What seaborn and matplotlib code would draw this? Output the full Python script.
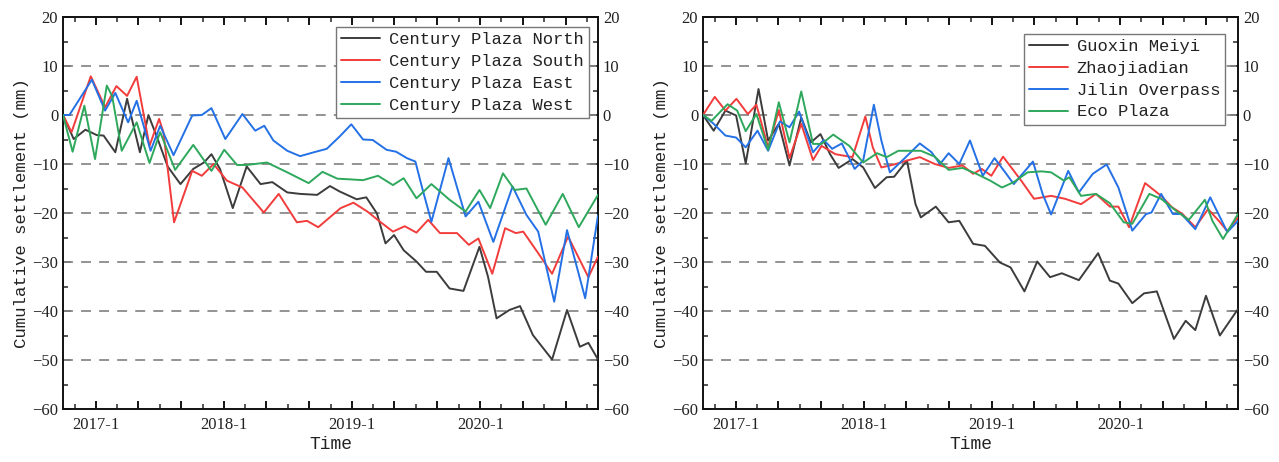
import numpy as np
import pandas as pd
import matplotlib
matplotlib.use("Agg")
import matplotlib.pyplot as plt
import matplotlib.dates as mdates
from matplotlib.ticker import MultipleLocator, FuncFormatter
import seaborn as sns

# ---------------- data (months since 2017-01, settlement in mm) ----------------
north_m = [-3.1, -2.1, -1.0, 0.06, 0.7, 1.8, 2.9, 4.1, 4.9, 5.7, 6.7, 7.9, 9.1, 10.1, 10.8, 11.6, 12.8,
           14.1, 15.4, 16.5, 17.9, 19.1, 20.7, 21.9, 22.8, 24.4, 25.3, 26.3, 27.1, 27.9, 28.8, 30.0,
           30.9, 31.9, 33.1, 34.4, 35.9, 36.7, 37.5, 38.7, 39.7, 40.9, 42.7, 44.1, 45.3, 46.1, 47.0]
north_v = [0, -4.9, -3.0, -4.1, -4.2, -7.6, 3.3, -7.6, 0, -4.5, -10.5, -14.1, -11.0, -9.7, -8.0, -11.0,
           -19.0, -10.5, -14.1, -13.7, -15.8, -16.1, -16.3, -14.5, -15.6, -17.2, -16.8, -20.1, -26.2,
           -24.5, -27.6, -29.9, -32.0, -32.0, -35.4, -35.9, -26.9, -33.0, -41.5, -39.8, -39.0, -44.9,
           -49.9, -39.8, -47.3, -46.5, -49.9]

south_m = [-3.1, -2.3, -0.5, 0.84, 1.9, 2.9, 3.8, 5.0, 5.9, 6.3, 7.3, 9.0, 9.9, 11.0, 12.25, 13.7, 15.7,
           17.1, 18.8, 19.75, 20.8, 22.9, 24.1, 25.4, 26.6, 27.8, 28.9, 30.0, 31.1, 32.2, 33.8, 34.9,
           35.8, 37.1, 38.3, 39.3, 40.0, 41.4, 42.7, 44.2, 46.1, 47.0]
south_v = [0, -3.5, 7.9, 1.6, 5.9, 3.9, 7.8, -6.3, -0.8, -3.5, -21.9, -11.4, -12.4, -10.0, -13.4, -14.8,
           -19.9, -16.1, -21.9, -21.6, -22.9, -19.0, -17.9, -19.7, -21.8, -23.8, -22.7, -24.0, -21.4,
           -24.1, -24.1, -26.5, -25.2, -32.4, -23.1, -24.1, -23.8, -28.2, -32.4, -24.8, -33.1, -28.9]

east_m = [-3.1, -2.5, -0.4, 0.84, 1.8, 3.0, 3.8, 5.1, 6.0, 7.25, 9.0, 9.9, 10.8, 12.1, 13.7, 14.9, 15.75,
          16.6, 17.9, 19.1, 20.4, 21.6, 22.8, 23.9, 25.0, 25.9, 27.2, 28.1, 29.1, 29.9, 30.5, 31.4,
          33.0, 34.6, 35.8, 37.2, 39.0, 40.3, 41.4, 42.9, 44.1, 45.8, 47.0]
east_v = [0, 0, 7.2, 0.9, 4.5, -1.5, 2.9, -7.3, -2.2, -8.2, -0.1, 0, 1.4, -4.9, 0.2, -3.2, -2.2, -5.2,
          -7.3, -8.4, -7.6, -6.9, -4.4, -1.9, -5.0, -5.1, -7.1, -7.5, -8.8, -9.5, -14.6, -21.8, -8.8,
          -20.7, -17.7, -25.9, -14.6, -20.4, -23.8, -38.1, -23.5, -37.4, -20.5]

west_m = [-3.1, -2.2, -1.1, -0.1, 1.0, 1.5, 2.4, 3.8, 5.0, 6.0, 7.4, 9.1, 10.8, 12.0, 13.2, 14.1, 16.0,
          17.9, 19.9, 21.2, 22.6, 23.5, 25.0, 26.4, 27.8, 28.8, 30.0, 31.4, 33.1, 34.6, 35.9, 36.9,
          38.1, 39.2, 40.3, 42.1, 43.7, 45.2, 47.0]
west_v = [0, -7.5, 1.9, -9.0, 6.0, 3.9, -7.3, -1.5, -9.8, -3.5, -11.2, -6.1, -11.4, -7.1, -10.2, -10.2,
          -9.7, -11.7, -13.9, -11.6, -13.0, -13.1, -13.3, -12.4, -14.3, -12.9, -17.0, -14.1, -17.3,
          -19.7, -15.3, -19.0, -11.9, -15.3, -15.0, -22.4, -16.1, -22.9, -16.3]

guoxin_m = [-3.1, -2.1, -1.0, 0.0, 0.9, 2.1, 3.0, 4.0, 5.0, 6.1, 7.0, 7.9, 8.8, 9.6, 10.9, 11.9, 13.0,
            14.1, 14.8, 16.0, 16.8, 17.3, 18.7, 19.9, 20.9, 22.2, 23.3, 24.7, 25.7, 27.0, 28.2, 29.4,
            30.5, 32.1, 33.9, 35.0, 35.8, 37.1, 38.2, 39.4, 41.0, 42.1, 43.0, 44.0, 45.3, 47.0]
guoxin_v = [0, -3.2, 0.9, -0.1, -9.9, 5.3, -5.2, -1.8, -10.3, -0.5, -5.6, -3.9, -8.0, -10.8, -9.0,
            -10.7, -14.9, -12.7, -12.6, -9.3, -18.2, -20.9, -18.7, -21.9, -21.6, -26.3, -26.7, -30.1,
            -31.1, -36.0, -29.9, -33.1, -32.3, -33.7, -28.2, -33.8, -34.4, -38.4, -36.4, -36.0, -45.7,
            -42.0, -43.9, -36.9, -45.0, -39.6]

zhao_m = [-3.1, -2.0, -1.0, 0.03, 1.1, 1.9, 3.0, 4.0, 5.0, 6.1, 7.2, 8.0, 9.3, 10.9, 12.1, 12.8, 13.6,
          14.8, 16.0, 17.2, 18.6, 19.9, 21.2, 22.2, 23.0, 23.9, 25.0, 26.7, 27.9, 29.5, 30.8, 32.3,
          33.7, 35.0, 35.8, 36.8, 38.3, 39.8, 40.8, 41.8, 43.0, 44.2, 45.2, 46.0, 47.0]
zhao_v = [0, 3.7, 0.9, 3.3, 0.2, 2.1, -6.6, 1.0, -8.8, -1.8, -9.2, -6.3, -8.0, -8.6, -0.3, -6.6, -10.7,
          -10.1, -9.3, -8.6, -10.0, -10.8, -10.3, -12.0, -11.0, -12.4, -8.5, -13.4, -17.1, -16.5, -17.1,
          -18.2, -16.1, -18.7, -18.7, -22.9, -13.9, -16.5, -18.8, -20.2, -22.9, -19.2, -21.6, -23.7, -20.9]

jilin_m = [-3.1, -2.1, -1.0, 0.0, 0.9, 2.0, 3.0, 4.1, 5.0, 5.9, 7.2, 8.2, 9.0, 9.9, 11.1, 11.9, 12.9,
           13.6, 14.4, 15.7, 17.2, 18.3, 19.1, 19.9, 20.9, 21.9, 23.1, 24.2, 25.2, 26.0, 27.8, 28.7,
           29.5, 31.1, 32.1, 33.4, 34.7, 35.8, 37.1, 38.4, 38.9, 39.8, 40.9, 41.7, 43.0, 44.4, 46.0, 47.0]
jilin_v = [0, -1.8, -4.2, -4.6, -6.6, -3.2, -7.3, -1.3, -2.5, 0.7, -7.6, -5.1, -6.9, -5.8, -11.0, -9.3,
           2.1, -5.2, -11.7, -9.0, -5.8, -7.6, -10.0, -7.8, -10.0, -5.2, -12.4, -8.8, -11.7, -14.1, -9.5,
           -16.1, -20.3, -11.4, -15.8, -12.0, -10.1, -14.8, -23.6, -20.2, -19.9, -16.1, -20.2, -20.2,
           -23.3, -16.8, -23.9, -21.6]

eco_m = [-3.1, -2.3, -0.8, 0.1, 0.9, 1.9, 3.0, 4.0, 5.0, 6.1, 7.2, 8.0, 9.1, 10.6, 11.9, 13.2, 14.1,
         15.2, 17.3, 18.6, 19.9, 21.2, 22.5, 23.8, 24.9, 26.0, 27.3, 28.6, 29.5, 30.7, 31.2, 32.3, 33.7,
         35.0, 36.3, 37.1, 38.7, 39.8, 41.4, 42.4, 43.9, 44.6, 45.6, 47.0]
eco_v = [0, -1.2, 2.2, 0.9, -3.3, 0.2, -7.1, 2.6, -5.6, 4.8, -5.9, -5.9, -4.0, -6.3, -9.7, -7.8, -8.6,
         -7.3, -7.3, -8.5, -11.2, -10.8, -12.0, -13.4, -14.8, -13.7, -11.7, -11.5, -11.7, -13.4, -12.7,
         -16.5, -16.1, -18.0, -21.9, -22.2, -16.1, -17.1, -19.9, -21.4, -17.3, -21.6, -25.3, -20.2]

left_names = ["Century Plaza North", "Century Plaza South", "Century Plaza East", "Century Plaza West"]
right_names = ["Guoxin Meiyi", "Zhaojiadian", "Jilin Overpass", "Eco Plaza"]
left_series = [(north_m, north_v), (south_m, south_v), (east_m, east_v), (west_m, west_v)]
right_series = [(guoxin_m, guoxin_v), (zhao_m, zhao_v), (jilin_m, jilin_v), (eco_m, eco_v)]
y_ticks = [-60, -50, -40, -30, -20, -10, 0, 10, 20]
grid_levels = [-50, -40, -30, -20, -10, 0, 10]
colors = ["#3c3c3c", "#f23c3c", "#2471e6", "#2ea85c"]

BASE = pd.Timestamp("2017-01-01")


def to_dates(months):
    return BASE + pd.to_timedelta(np.asarray(months) * 30.4375, unit="D")


def build_df(names, series):
    frames = []
    for name, (m, v) in zip(names, series):
        frames.append(pd.DataFrame({"date": to_dates(m), "value": v, "series": name}))
    return pd.concat(frames, ignore_index=True)


sns.set_style("ticks")
plt.rcParams["font.family"] = ["Liberation Serif", "DejaVu Serif"]
plt.rcParams["axes.unicode_minus"] = True

fig = plt.figure(figsize=(12.79, 4.62), dpi=100)
ax_l = fig.add_axes([63 / 1279, 53 / 462, 535 / 1279, 392 / 462])
ax_r = fig.add_axes([703 / 1279, 53 / 462, 535 / 1279, 392 / 462])

mono = "Liberation Mono"


def year_fmt(x, pos):
    d = mdates.num2date(x)
    return f"{d.year}-1" if d.month == 1 else ""


def style_axis(ax, names, series, legend_anchor):
    df = build_df(names, series)
    for lv in grid_levels:
        ax.axhline(lv, color="#8a8a8a", lw=1.3, ls=(0, (5.5, 4.5)), zorder=1)
    sns.lineplot(data=df, x="date", y="value", hue="series", hue_order=names,
                 palette=colors, estimator=None, sort=False, lw=1.4, ax=ax, zorder=3)
    all_m = [mm for m, _ in series for mm in m]
    ax.set_xlim(to_dates([min(all_m)])[0], to_dates([max(all_m)])[0])
    ax.set_ylim(-60, 20)
    ax.set_yticks(y_ticks)
    ax.yaxis.set_minor_locator(MultipleLocator(5))
    ax.xaxis.set_major_locator(mdates.MonthLocator(bymonth=[1, 5, 9]))
    ax.xaxis.set_minor_locator(mdates.MonthLocator(bymonth=[3, 7, 11]))
    ax.xaxis.set_major_formatter(FuncFormatter(year_fmt))
    ax.tick_params(axis="both", which="major", direction="in", length=6, width=1.3,
                   top=True, right=True, labelright=True, labelsize=12, colors="black",
                   labelcolor="#222222")
    ax.tick_params(axis="both", which="minor", direction="in", length=3.5, width=1.1,
                   top=True, right=True)
    ax.tick_params(axis="x", which="major", pad=6)
    for s in ax.spines.values():
        s.set_linewidth(1.4)
        s.set_color("#111111")
        s.set_visible(True)
    ax.set_xlabel("Time", fontfamily=mono, fontsize=13, color="#222222", labelpad=2)
    ax.set_ylabel("Cumulative settlement (mm)", fontfamily=mono, fontsize=12.5,
                  color="#222222", labelpad=2)
    leg = ax.legend(loc="upper right", bbox_to_anchor=legend_anchor, frameon=True,
                    fancybox=False, framealpha=1, edgecolor="#777777",
                    prop={"family": mono, "size": 12.3}, handlelength=2.3,
                    labelspacing=0.4, borderpad=0.3, handletextpad=0.5, borderaxespad=0)
    leg.get_frame().set_linewidth(1.0)
    for t in leg.get_texts():
        t.set_color("#222222")
    ax.set_facecolor("white")


style_axis(ax_l, left_names, left_series, (0.983, 0.974))
style_axis(ax_r, right_names, right_series, (0.976, 0.957))

fig.savefig("out.png", dpi=100, facecolor="white")
